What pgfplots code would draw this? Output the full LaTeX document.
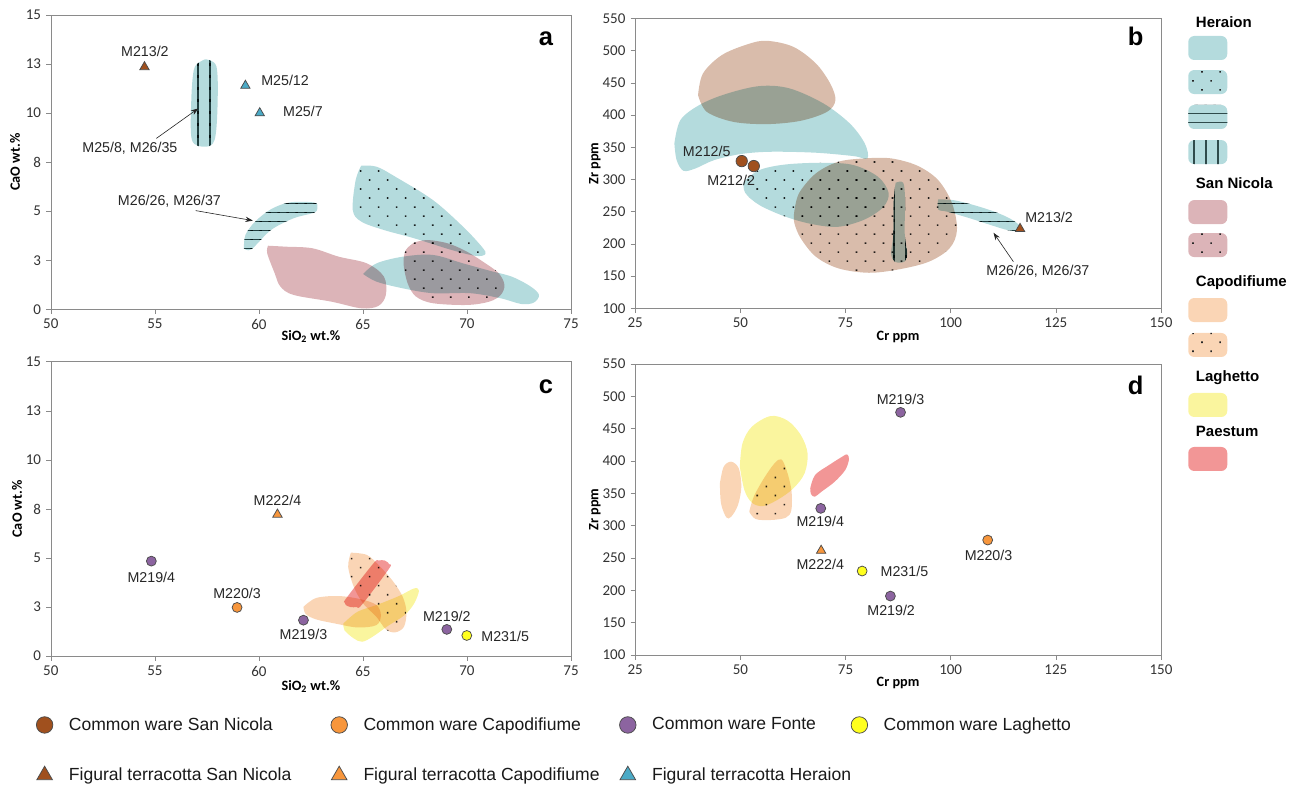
\documentclass[border=0pt]{standalone}
\usepackage{pgfplots}
\pgfplotsset{compat=1.18}
\usetikzlibrary{patterns,patterns.meta,arrows.meta}
\usepackage{fontspec}
\setmainfont{Liberation Sans}
\newfontfamily\calibri{Carlito}

\definecolor{her}{HTML}{B4DBDD}
\definecolor{sn}{HTML}{DCB4B8}
\definecolor{snb}{HTML}{D9BCAB}
\definecolor{capo}{HTML}{FAD5B5}
\definecolor{lag}{HTML}{FAF59E}
\definecolor{pae}{HTML}{F29696}
\definecolor{hatch}{HTML}{2F4B4B}
\definecolor{axgray}{HTML}{8A8A8A}
\definecolor{cwsn}{HTML}{A0501E}
\definecolor{cwcap}{HTML}{F7963C}
\definecolor{cwfon}{HTML}{8C64A0}
\definecolor{cwlag}{HTML}{FFFF1E}
\definecolor{fther}{HTML}{4BAAC6}

% hatch tiles that overlap their neighbours, so the lines come out unbroken
\pgfdeclarepatternformonly{hlin}{\pgfqpoint{-1pt}{-1pt}}{\pgfqpoint{7pt}{7pt}}{\pgfqpoint{6pt}{6pt}}%
  {\pgfpathrectangle{\pgfqpoint{-1pt}{2.55pt}}{\pgfqpoint{8pt}{0.9pt}}\pgfusepath{fill}}
\pgfdeclarepatternformonly{vlin}{\pgfqpoint{-1pt}{-1pt}}{\pgfqpoint{9pt}{9pt}}{\pgfqpoint{8pt}{8pt}}%
  {\pgfpathrectangle{\pgfqpoint{3.55pt}{-1pt}}{\pgfqpoint{0.9pt}{10pt}}\pgfusepath{fill}}

\pgfplotsset{
  panel/.style={
    scale only axis, anchor=south west,
    axis line style={axgray}, tick style={axgray, thin},
    tick align=outside, major tick length=3pt,
    xtick pos=left, ytick pos=left,
    tick label style={font=\calibri\fontsize{10}{12}\selectfont, text=black!80},
    /pgf/number format/assume math mode=true,
    label style={font=\calibri\bfseries\fontsize{9.5}{11}\selectfont},
  },
  fld/.style={draw=none, fill=#1, blend mode=multiply, smooth, tension=0.55, forget plot},
  dots/.style={postaction={pattern={Dots[distance=8.5pt,angle=45,radius=0.75pt]}, pattern color=black!85}},
  vlines/.style={postaction={pattern=vlin, pattern color=hatch}},
  hlines/.style={postaction={pattern=hlin, pattern color=hatch}},
  cw/.style={only marks, mark=*, mark size=3.3pt, mark options={fill=#1, draw=black!70, line width=0.5pt}},
  ft/.style={only marks, mark=triangle*, mark size=3.6pt, mark options={fill=#1, draw=black!70, line width=0.5pt}},
}
\tikzset{
  arr/.style={-{Stealth[length=5pt,width=3.5pt]}, black!85, thin},
  lbl/.style={font=\fontsize{9.5}{11}\selectfont, text=black!85},
  plet/.style={font=\bfseries\fontsize{17}{19}\selectfont},
}

\begin{document}
\begin{tikzpicture}

% ---------- a ----------
\begin{axis}[panel, at={(33.9pt,316.5pt)}, width=346.8pt, height=196.2pt,
  xmin=50, xmax=75, ymin=0, ymax=15, xtick={50,55,...,75},
  ytick={0,2.5,...,15}, yticklabels={0,3,5,8,10,13,15},
  xlabel={SiO\textsubscript{2} wt.\%}, ylabel={CaO wt.\%},
  xlabel style={at={(axis description cs:0.5,-0.093)}, anchor=center},
  ylabel style={at={(axis description cs:-0.069,0.5)}, anchor=center}]
\addplot[fld=sn] coordinates {(60.44,3.24) (61.31,3.19) (62.57,3.11) (63.84,2.68) (65.19,2.34)
  (66.01,1.66) (66.1,0.73) (65.74,0.17) (64.92,0.05) (63.48,0.39) (61.67,0.73) (61.03,1.16)
  (60.76,1.83) (60.40,2.85) (60.44,3.24)};
\addplot[fld=her] coordinates {(65.01,1.80) (65.65,2.34) (66.91,2.68) (68.36,2.77) (69.81,2.34)
  (71.07,1.97) (72.16,1.66) (73.06,1.16) (73.46,0.73) (73.21,0.34) (72.61,0.27) (71.62,0.56)
  (70.17,0.82) (68.36,0.82) (66.91,1.07) (65.65,1.41) (65.01,1.80)};
\addplot[fld=sn, dots] coordinates {(67.46,3.40) (68.09,3.53) (69.08,3.36) (69.99,2.94) (70.89,2.34)
  (71.53,1.83) (71.80,1.24) (71.62,0.73) (71.07,0.39) (69.99,0.22) (68.36,0.31) (67.55,0.65)
  (67.15,1.32) (66.95,2.34) (67.06,3.02) (67.46,3.40)};
\addplot[fld=her, dots] coordinates {(64.92,7.32) (65.65,7.27) (66.55,6.76) (68.36,5.57) (69.81,4.21)
  (70.71,3.19) (70.89,2.82) (70.44,2.72) (69.27,3.02) (67.46,3.62) (66.01,4.04) (64.92,4.47)
  (64.51,5.06) (64.65,6.59) (64.92,7.32)};
\addplot[fld=her, vlines] coordinates {(57.42,12.74) (57.96,12.37) (58.01,10.33) (57.87,8.63)
  (57.42,8.29) (56.78,8.63) (56.75,10.67) (56.87,12.2) (57.15,12.6) (57.42,12.74)};
\addplot[fld=her, hlines] coordinates {(59.28,3.11) (59.64,3.06) (60.58,4.04) (61.67,4.64)
  (62.66,4.93) (62.81,5.2) (62.66,5.44) (61.49,5.45) (60.58,5.1) (59.82,4.47) (59.35,3.79) (59.28,3.11)};
\addplot[ft=cwsn] coordinates {(54.5,12.35)};
\addplot[ft=fther] coordinates {(59.35,11.4) (60.04,10.0)};
\node[lbl] at (axis cs:54.52,13.13) {M213/2};
\node[lbl, anchor=west] at (axis cs:59.86,11.69) {M25/12};
\node[lbl, anchor=west] at (axis cs:60.91,10.11) {M25/7};
\node[lbl] at (axis cs:53.8,8.2) {M25/8, M26/35};
\node[lbl] at (axis cs:55.7,5.52) {M26/26, M26/37};
\draw[arr] (axis cs:55.07,8.71) -- (axis cs:57.09,10.24);
\draw[arr] (axis cs:56.96,5.03) -- (axis cs:59.71,4.52);
\node[plet] at (axis cs:73.79,13.81) {a};
\end{axis}

% ---------- b ----------
\begin{axis}[panel, at={(423.5pt,317.1pt)}, width=350.5pt, height=193.3pt,
  xmin=25, xmax=150, ymin=100, ymax=550, xtick={25,50,...,150}, ytick={100,150,...,550},
  xlabel={Cr ppm}, ylabel={Zr ppm},
  xlabel style={at={(axis description cs:0.5,-0.098)}, anchor=center},
  ylabel style={at={(axis description cs:-0.077,0.5)}, anchor=center}]
\addplot[fld=snb] coordinates {(39.94,431) (41.11,464.7) (45.58,493.1) (51.84,510.2) (56.32,515.3)
  (62.58,506.0) (67.95,480.2) (71.35,449.1) (72.60,423.3) (70.63,405.2) (64.37,391.2) (56.32,386.0)
  (48.26,389.6) (42.0,405.2) (39.94,431)};
\addplot[fld=her] coordinates {(34.31,356.0) (35.74,392.2) (40.21,415.5) (46.47,432.6) (54.53,445.0)
  (61.69,441.4) (69.74,418.1) (76.0,387.1) (79.58,356.0) (80.21,332.8) (76.9,336.4) (67.95,341.6)
  (57.21,343.1) (50.05,339.5) (43.79,330.2) (39.32,317.2) (36.45,313.6) (34.84,330.2) (34.31,356.0)};
\addplot[fld=her, dots] coordinates {(50.77,296.5) (54.53,314.7) (60.79,323.4) (69.74,326.0) (76.9,322.4)
  (82.71,304.3) (85.22,279.5) (84.05,257.8) (79.58,238.1) (73.32,226.7) (67.05,230.8) (60.79,242.2)
  (54.53,260.3) (51.13,279.5) (50.77,296.5)};
\addplot[fld=snb, dots] coordinates {(62.76,247.4) (63.92,278.4) (67.95,309.5) (73.32,327.6) (79.58,332.8)
  (85.85,332.8) (92.11,321.4) (97.03,299.1) (100.34,262.9) (101.5,221.5) (99.71,193.1) (94.79,172.4)
  (87.64,160.5) (80.48,155.3) (73.32,162.1) (67.95,180.2) (64.37,208.6) (62.85,231.9) (62.76,247.4)};
\addplot[fld=her, vlines] coordinates {(86.92,295.0) (88.71,295.0) (89.16,268.1) (89.07,216.4) (89.69,185.3)
  (88.98,172.4) (86.74,172.4) (85.85,185.3) (86.38,216.4) (86.47,268.1) (86.92,295.0)};
\addplot[fld=her, hlines] coordinates {(97.03,269.1) (100.61,268.1) (105.53,260.3) (110.45,250.0)
  (114.03,239.7) (116.27,229.3) (116.53,220.5) (113.58,221.5) (109.56,229.3) (104.64,239.7)
  (99.27,250.0) (97.03,253.6) (97.03,269.1)};
\addplot[cw=cwsn, mark size=3.8pt] coordinates {(50.32,328.6) (53.19,320.9)};
\addplot[ft=cwsn] coordinates {(116.5,223.6)};
\node[lbl] at (axis cs:42.0,343.1) {M212/5};
\node[lbl] at (axis cs:47.82,299.1) {M212/2};
\node[lbl] at (axis cs:123.4,241.2) {M213/2};
\node[lbl] at (axis cs:120.74,156.9) {M26/26, M26/37};
\draw[arr] (axis cs:114.92,172.4) -- (axis cs:110.18,217.4);
\node[plet] at (axis cs:144.0,521.5) {b};
\end{axis}

% ---------- c ----------
\begin{axis}[panel, at={(33.9pt,85.3pt)}, width=346.8pt, height=196.2pt,
  xmin=50, xmax=75, ymin=0, ymax=15, xtick={50,55,...,75},
  ytick={0,2.5,...,15}, yticklabels={0,3,5,8,10,13,15},
  xlabel={SiO\textsubscript{2} wt.\%}, ylabel={CaO wt.\%},
  xlabel style={at={(axis description cs:0.5,-0.104)}, anchor=center},
  ylabel style={at={(axis description cs:-0.065,0.5)}, anchor=center}]
\addplot[fld=capo] coordinates {(62.14,2.51) (62.75,2.96) (63.84,3.06) (64.92,2.89) (65.65,2.60)
  (65.86,2.09) (65.65,1.58) (64.74,1.46) (63.66,1.66) (62.75,1.87) (62.25,2.14) (62.14,2.51)};
\addplot[fld=capo, dots] coordinates {(64.42,5.27) (65.2,5.15) (65.83,4.55) (66.46,3.79) (66.91,3.02)
  (67.09,2.26) (66.97,1.49) (66.55,1.21) (66.1,1.36) (65.65,2.0) (65.01,2.68) (64.56,3.53)
  (64.29,4.55) (64.42,5.27)};
\addplot[fld=lag] coordinates {(64.06,1.66) (64.74,2.26) (65.65,2.60) (66.73,3.06) (67.46,3.45)
  (67.69,3.33) (67.46,2.68) (67.0,2.09) (66.19,1.53) (65.47,0.99) (64.96,0.73) (64.56,0.90)
  (64.11,1.32) (64.06,1.66)};
\addplot[fld=pae] coordinates {(64.12,2.75) (64.2,2.95) (65.5,4.72) (65.75,4.87) (66.05,4.87)
  (66.27,4.68) (66.25,4.45) (64.95,2.62) (64.7,2.5) (64.4,2.5) (64.18,2.6) (64.12,2.75)};
\addplot[cw=cwfon] coordinates {(54.83,4.84) (62.14,1.83) (69.03,1.36)};
\addplot[cw=cwcap] coordinates {(58.95,2.48)};
\addplot[cw=cwlag] coordinates {(69.99,1.05)};
\addplot[ft=cwcap] coordinates {(60.89,7.22)};
\node[lbl] at (axis cs:60.89,7.95) {M222/4};
\node[lbl] at (axis cs:54.83,4.0) {M219/4};
\node[lbl] at (axis cs:58.95,3.18) {M220/3};
\node[lbl] at (axis cs:62.14,1.12) {M219/3};
\node[lbl] at (axis cs:69.03,2.04) {M219/2};
\node[lbl, anchor=west] at (axis cs:70.44,1.02) {M231/5};
\node[plet] at (axis cs:73.79,13.72) {c};
\end{axis}

% ---------- d ----------
\begin{axis}[panel, at={(423.5pt,86pt)}, width=350.5pt, height=194pt,
  xmin=25, xmax=150, ymin=100, ymax=550, xtick={25,50,...,150}, ytick={100,150,...,550},
  xlabel={Cr ppm}, ylabel={Zr ppm},
  xlabel style={at={(axis description cs:0.5,-0.097)}, anchor=center},
  ylabel style={at={(axis description cs:-0.077,0.5)}, anchor=center}]
\addplot[fld=capo] coordinates {(45.13,365.5) (46.03,391.2) (47.82,399.0) (49.61,388.7) (50.23,360.3)
  (49.43,332.0) (47.82,313.9) (46.65,312.9) (45.4,334.5) (45.13,365.5)};
\addplot[fld=lag] coordinates {(49.87,391.2) (50.5,427.3) (52.74,453.1) (57.21,469.6) (61.24,462.4)
  (64.37,440.2) (65.98,411.9) (65.26,380.9) (62.58,357.7) (59.0,340.7) (55.42,330.4) (52.74,335.6)
  (50.95,355.2) (49.87,391.2)};
\addplot[fld=capo, dots] coordinates {(52.11,321.6) (53.18,344.8) (55.6,373.2) (58.11,396.4) (59.72,402.6)
  (60.97,386.1) (62.13,355.2) (62.13,324.2) (60.79,312.4) (57.21,308.8) (53.63,310.3) (52.11,321.6)};
\addplot[fld=pae] coordinates {(66.61,357.7) (67.77,378.4) (71.08,393.8) (74.21,406.7) (75.38,410.3)
  (75.82,402.6) (74.93,386.1) (72.42,368.0) (69.29,352.6) (67.68,344.8) (66.79,348.9) (66.61,357.7)};
\addplot[cw=cwfon] coordinates {(88.08,475.3) (69.11,326.8) (85.67,191.2)};
\addplot[cw=cwcap] coordinates {(108.8,277.8)};
\addplot[cw=cwlag] coordinates {(78.95,229.9)};
\addplot[ft=cwcap] coordinates {(69.2,261.5)};
\node[lbl] at (axis cs:88.08,495.9) {M219/3};
\node[lbl] at (axis cs:69.0,306.2) {M219/4};
\node[lbl] at (axis cs:69.0,240.2) {M222/4};
\node[lbl, anchor=west] at (axis cs:82.1,229.9) {M231/5};
\node[lbl] at (axis cs:85.85,169.6) {M219/2};
\node[lbl] at (axis cs:109.0,254.6) {M220/3};
\node[plet] at (axis cs:144.0,517.5) {d};
\end{axis}

% ---------- marker legend ----------
\begin{axis}[hide axis, scale only axis, at={(0pt,0pt)}, anchor=south west,
  width=860.7pt, height=522.7pt, xmin=0, xmax=1, ymin=0, ymax=1,
  legend columns=4,
  legend image code/.code={\path (0pt,0pt) (25pt,0pt); \draw[#1] plot coordinates {(10pt,0pt)};},
  legend style={at={(axis description cs:0.019,0.091)}, anchor=north west, draw=none, fill=none,
    font=\fontsize{11.7}{13}\selectfont, text=black!90, row sep=21.5pt, column sep=0pt,
    nodes={inner sep=1pt, anchor=west}}]
\addlegendimage{cw=cwsn, mark size=5.5pt}
\addlegendentry{\makebox[169pt][l]{Common ware San Nicola}}
\addlegendimage{cw=cwcap, mark size=5.5pt}
\addlegendentry{\makebox[165pt][l]{Common ware Capodifiume}}
\addlegendimage{cw=cwfon, mark size=5.5pt}
\addlegendentry{\makebox[127pt][l]{Common ware Fonte}}
\addlegendimage{cw=cwlag, mark size=5.5pt}
\addlegendentry{\makebox[100pt][l]{Common ware Laghetto}}
\addlegendimage{ft=cwsn, mark size=6pt}
\addlegendentry{\makebox[169pt][l]{Figural terracotta San Nicola}}
\addlegendimage{ft=cwcap, mark size=6pt}
\addlegendentry{\makebox[165pt][l]{Figural terracotta Capodifiume}}
\addlegendimage{ft=fther, mark size=6pt}
\addlegendentry{\makebox[127pt][l]{Figural terracotta Heraion}}
\end{axis}

% ---------- field legend ----------
\begin{scope}[font=\bfseries\fontsize{10}{12}\selectfont,
  sw/.style={rounded corners=4pt, minimum width=26pt, minimum height=16pt, inner sep=0pt, fill=#1}]
\node[anchor=west] at (793.8pt,508.0pt) {Heraion};
\node[sw=her] at (805.2pt,490.7pt) {};
\node[sw=her, postaction={pattern={Dots[distance=8.5pt,angle=45,radius=0.75pt,xshift=2pt]}, pattern color=black!85}] at (805.2pt,468.0pt) {};
\node[sw=her, postaction={pattern=hlin, pattern color=hatch}] at (805.2pt,444.7pt) {};
\node[sw=her, postaction={pattern=vlin, pattern color=hatch}] at (805.2pt,421.3pt) {};
\node[anchor=west] at (793.8pt,400.7pt) {San Nicola};
\node[sw=sn] at (805.2pt,381.3pt) {};
\node[sw=sn, postaction={pattern={Dots[distance=8.5pt,angle=45,radius=0.75pt,xshift=2pt]}, pattern color=black!85}] at (805.2pt,359.3pt) {};
\node[anchor=west] at (793.8pt,334.0pt) {Capodifiume};
\node[sw=capo] at (805.2pt,316.0pt) {};
\node[sw=capo, postaction={pattern={Dots[distance=8.5pt,angle=45,radius=0.75pt,xshift=2pt]}, pattern color=black!85}] at (805.2pt,292.7pt) {};
\node[anchor=west] at (793.8pt,270.7pt) {Laghetto};
\node[sw=lag] at (805.2pt,252.7pt) {};
\node[anchor=west] at (793.8pt,235.3pt) {Paestum};
\node[sw=pae] at (805.2pt,216.7pt) {};
\end{scope}

\pgfresetboundingbox
\useasboundingbox (0pt,0pt) rectangle (860.7pt,522.7pt);
\end{tikzpicture}
\end{document}
